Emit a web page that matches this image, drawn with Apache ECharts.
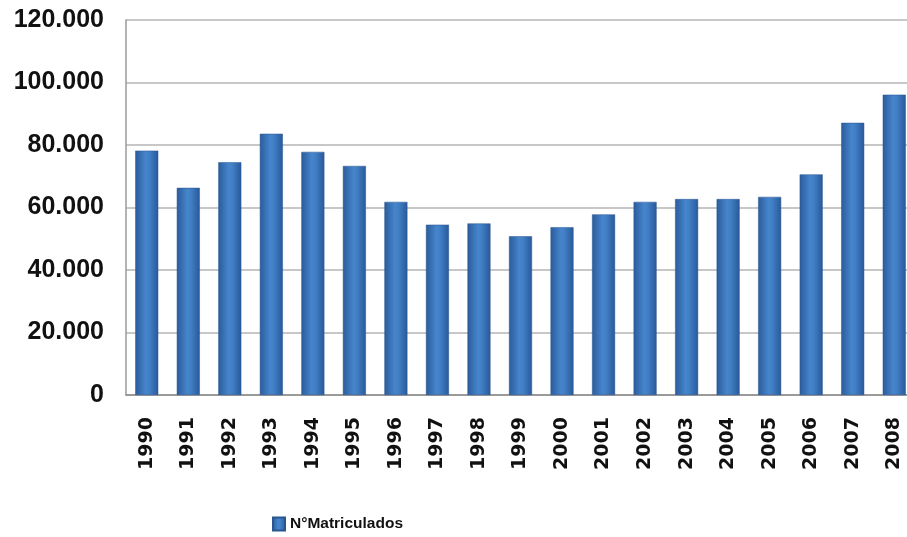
<!DOCTYPE html>
<html>
<head>
<meta charset="utf-8">
<script src="https://cdn.jsdelivr.net/npm/echarts@6/dist/echarts.min.js"></script>
<style>
  html, body { margin: 0; padding: 0; background: #fff; }
  #chart { width: 907px; height: 537px; }
</style>
</head>
<body>
<div id="chart"></div>
<script>
// Enrolment counts per year
const years = ['1990','1991','1992','1993','1994','1995','1996','1997','1998','1999',
               '2000','2001','2002','2003','2004','2005','2006','2007','2008'];
const matriculados = [78200, 66300, 74500, 83600, 77800, 73300, 61800, 54500, 54900, 50800,
                      53700, 57800, 61800, 62700, 62700, 63400, 70600, 87100, 96100];
const seriesName = 'N°Matriculados';

// Thousands separated with a dot
function fmt(v) {
  return String(v).replace(/\B(?=(\d{3})+(?!\d))/g, '.');
}

const barFill = new echarts.graphic.LinearGradient(0, 0, 1, 0, [
  { offset: 0, color: '#2a5c9b' },
  { offset: 0.45, color: '#4684cb' },
  { offset: 0.6, color: '#4280c6' },
  { offset: 1, color: '#28599a' }
]);

const chart = echarts.init(document.getElementById('chart'), null, { renderer: 'canvas' });
chart.setOption({
  animation: false,
  backgroundColor: '#ffffff',
  // plot area runs slightly past the right edge of the canvas
  grid: { left: 126, width: 789, top: 20, bottom: 142, containLabel: false, outerBoundsMode: 'none' },
  legend: {
    data: [seriesName],
    bottom: 0,
    left: 267,
    icon: 'rect',
    itemWidth: 12,
    itemHeight: 13,
    itemGap: 3,
    textStyle: { fontFamily: 'Liberation Sans', fontWeight: 'bold', fontSize: 15.5, color: '#111' }
  },
  xAxis: {
    type: 'category',
    data: years,
    axisLine: { show: true, lineStyle: { color: '#8c8c8c', width: 1.5 } },
    axisTick: { show: false },
    axisLabel: {
      rotate: 90,
      margin: 22,
      interval: 0,
      fontFamily: 'DejaVu Sans',
      fontWeight: 'bold',
      fontSize: 19,
      color: '#111'
    }
  },
  yAxis: {
    type: 'value',
    min: 0,
    max: 120000,
    interval: 20000,
    axisLine: { show: true, lineStyle: { color: '#9a9a9a', width: 1.5 } },
    axisTick: { show: false },
    splitLine: { lineStyle: { color: '#b4b4b4', width: 1.5 } },
    axisLabel: {
      margin: 22,
      fontFamily: 'Liberation Sans',
      fontWeight: 'bold',
      fontSize: 25,
      color: '#111',
      formatter: fmt
    }
  },
  series: [{
    name: seriesName,
    type: 'bar',
    data: matriculados,
    barWidth: 23,
    itemStyle: { color: barFill, borderColor: '#2a5590', borderWidth: 0.5 }
  }]
});
</script>
</body>
</html>
